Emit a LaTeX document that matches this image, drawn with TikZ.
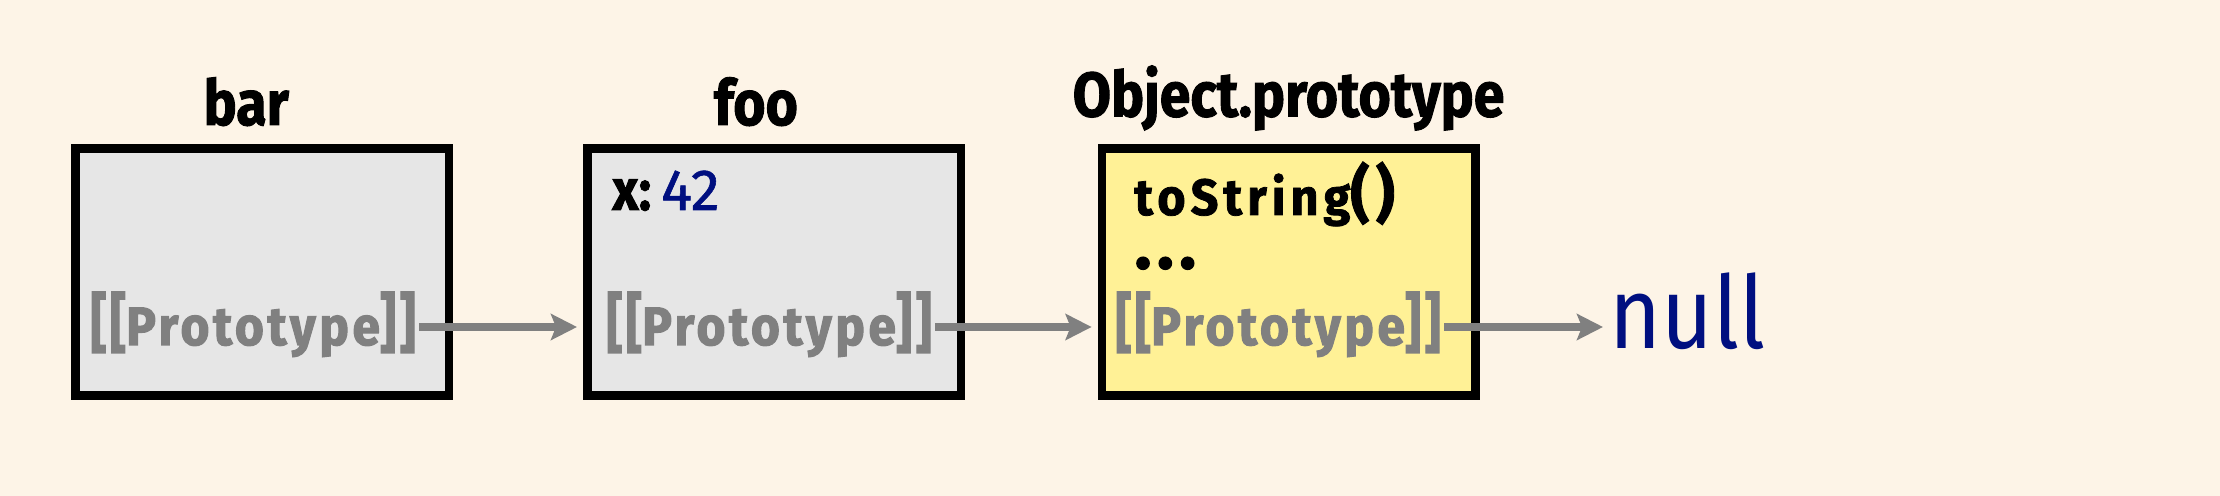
\documentclass[tikz,border=0pt]{standalone}
\usepackage{graphicx}
\usepackage{fontspec}
\setmainfont{Fira Sans}
\newfontfamily\titlefont{Fira Sans}[FakeStretch=0.88, BoldFeatures={FakeBold=1.5}]
\newfontfamily\protofont{Fira Sans}[FakeStretch=0.92, LetterSpace=6.6, BoldFeatures={FakeBold=2}]
\newfontfamily\memberfont{Fira Sans}[FakeStretch=0.95, LetterSpace=10, BoldFeatures={FakeBold=1.5}]
\newfontfamily\dotsfont{Fira Sans}[BoldFeatures={FakeBold=2}]
\newfontfamily\numfont{Fira Sans}[FakeBold=1]
\newfontfamily\nullvaluefont{Fira Sans}[FakeStretch=0.88]
\usetikzlibrary{arrows.meta}
\definecolor{bgcol}{HTML}{FDF4E7}
\definecolor{boxgrey}{HTML}{E6E6E6}
\definecolor{boxyellow}{HTML}{FFF196}
\definecolor{protogrey}{HTML}{808080}
\definecolor{navyblue}{HTML}{000F80}
\newcommand{\protolabel}{\scalebox{1}[1.2]{[[}Prototype\scalebox{1}[1.2]{]]}}
\tikzset{
  objbox/.style={draw=black, line width=4.25pt, minimum width=186.75pt, minimum height=123.5pt, inner sep=0pt},
  title/.style={font=\titlefont\bfseries\fontsize{31.5pt}{36pt}\selectfont, anchor=base, inner sep=0pt},
  proto/.style={font=\protofont\bfseries\fontsize{27pt}{30pt}\selectfont, text=protogrey, anchor=base west, inner sep=0pt},
  member/.style={font=\memberfont\bfseries\fontsize{25.5pt}{30pt}\selectfont, anchor=base west, inner sep=0pt},
  arr/.style={draw=protogrey, line width=4pt, -{Stealth[length=13pt, width=13pt, inset=2.5pt]}},
}
\begin{document}
\begin{tikzpicture}[x=0.5pt,y=-0.5pt]
\fill[bgcol] (0,0) rectangle (2220,496);
\useasboundingbox (0,0) rectangle (2220,496);
% boxes
\node[objbox, fill=boxgrey] (bar) at (262.4,272.2) {};
\node[objbox, fill=boxgrey] (foo) at (774,272.2) {};
\node[objbox, fill=boxyellow] (obj) at (1288.6,272.2) {};
% titles
\node[title] (tbar) at (246.3,125) {bar};
\node[title] (tfoo) at (756,125) {foo};
\node[title] (tobj) at (1288.6,116.5) {Object.prototype};
% members
\node[font=\titlefont\bfseries\fontsize{29pt}{32pt}\selectfont, anchor=base west, inner sep=0pt] (x42) at (612,210) {x:\kern5pt{\numfont\mdseries\color{navyblue}42}};
\node[member] (tostr) at (1134,215) {toString{\fontsize{31pt}{34pt}\selectfont()}};
\node[font=\dotsfont\bfseries\fontsize{34pt}{36pt}\selectfont, anchor=base west, inner sep=0pt] (dots) at (1134.5,268.3) {.\kern3pt.\kern3pt.};
% prototype slots
\node[proto] (pbar) at (90,345) {\protolabel};
\node[proto] (pfoo) at (606,345) {\protolabel};
\node[proto] (pobj) at (1115,345) {\protolabel};
% null
\node[font=\nullvaluefont\fontsize{50.5pt}{56pt}\selectfont, text=navyblue, anchor=base west, inner sep=0pt] (null) at (1609,348.3) {null};
% arrows
\coordinate (ay) at (0,327);
\draw[arr, shorten <=1.5pt, shorten >=3pt] (pbar.east |- ay) -- (foo.west |- ay);
\draw[arr, shorten <=1.5pt, shorten >=3pt] (pfoo.east |- ay) -- (obj.west |- ay);
\draw[arr, shorten <=1.5pt, shorten >=3pt] (pobj.east |- ay) -- (null.west |- ay);
\end{tikzpicture}
\end{document}
